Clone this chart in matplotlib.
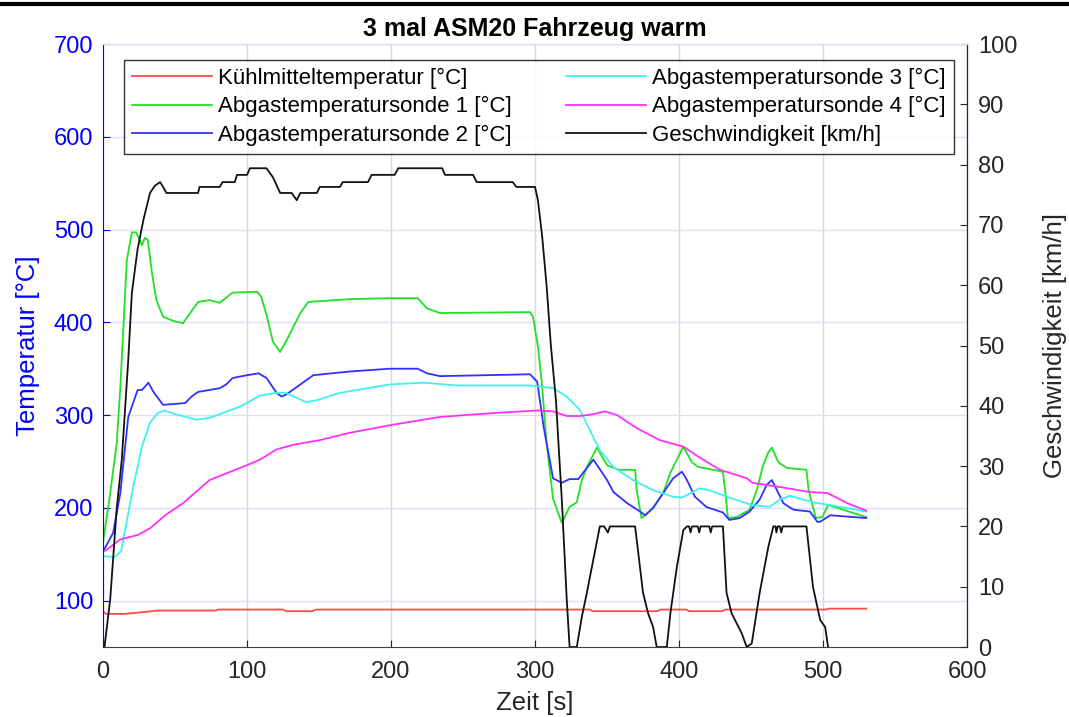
import matplotlib
matplotlib.use("Agg")
import matplotlib.pyplot as plt
from matplotlib.lines import Line2D

plt.rcParams['font.family'] = ['Liberation Sans', 'DejaVu Sans']

title = "3 mal ASM20 Fahrzeug warm"
xlabel = "Zeit [s]"
ylabel_left = "Temperatur [°C]"
ylabel_right = "Geschwindigkeit [km/h]"
labels = ["Kühlmitteltemperatur [°C]", "Abgastemperatursonde 1 [°C]",
          "Abgastemperatursonde 2 [°C]", "Abgastemperatursonde 3 [°C]",
          "Abgastemperatursonde 4 [°C]", "Geschwindigkeit [km/h]"]

# Coolant temperature
t_kuehl = [0, 2, 15, 20, 30, 38, 78, 80, 125, 127, 145, 148, 338, 340, 385, 387, 405, 407, 430, 432, 502, 504, 530]
v_kuehl = [88.5, 85.7, 85.7, 86.5, 88, 89.3, 89.3, 90.4, 90.4, 88.6, 88.6, 90.4, 90.4, 88.6, 88.6, 90.4, 90.4, 88.6, 88.6, 90.4, 90.4, 91.4, 91.4]

# Probe 1 (green)
t_s1 = [0, 5, 9.5, 12, 16.5, 20, 23, 27, 29, 31, 34, 37, 41.7, 48, 55.5, 60.5, 66, 74, 81, 90, 107, 110, 114, 118, 123, 128.6,
        137, 142.5, 171.5, 199, 218.5, 225, 234, 296.5, 298.6, 302, 305, 308, 312.5, 318.5, 324, 329, 332.5, 336, 343, 350, 358,
        369.5, 370.6, 374, 382, 389, 394, 398.5, 403, 409, 413.5, 430.5, 432, 434, 440, 449, 454, 458, 462, 464.5, 469, 475,
        488.5, 490, 495, 499.5, 503.5, 510, 530]
v_s1 = [163, 216, 270, 330, 467, 497, 497, 483, 491, 489, 453, 424, 406, 402, 399, 410, 422, 424, 421, 432, 433, 427, 405, 379, 368, 384,
        410, 422, 425, 426, 426, 415, 410, 411, 406, 374, 330, 270, 210, 184, 201, 206, 230, 244, 265, 246, 241,
        241, 219, 189, 200, 216, 238, 252, 266, 249, 244, 239, 219, 189, 190, 198, 219, 244, 260, 265, 249, 243,
        241, 219, 189, 190, 203, 200, 190]

# Probe 2 (blue)
t_s2 = [0, 7, 12, 17.5, 24, 27, 31.5, 35, 41.7, 57, 61.5, 66, 81, 85.5, 90, 100, 108, 113.5, 120.5, 124, 127, 137, 146, 171.5,
        199, 218.5, 225, 234, 296.5, 301.5, 306, 312.5, 318.5, 324, 330, 335, 340.5, 344, 350, 354.5, 364, 373, 376.5, 382,
        389, 396, 402, 405.5, 411, 419, 430.5, 435, 442, 449, 456, 461, 464.5, 468, 472.5, 479.5, 491, 496, 498, 505, 530]
v_s2 = [153, 173, 216, 298, 327, 327, 335, 325, 311, 313, 320, 325, 329, 333, 340, 343, 345, 340, 324, 320, 322, 333, 343, 347,
        350, 350, 345, 342, 344, 336, 287, 232, 227, 231, 231, 241, 252, 244, 230, 217, 205, 196, 192, 200,
        216, 232, 239, 230, 212, 201, 195, 187, 189, 196, 209, 225, 230, 219, 205, 198, 196, 185, 185, 192, 189]

# Probe 3 (cyan)
t_s3 = [0, 8, 12.5, 17.5, 21, 27, 32.6, 38, 42.5, 48, 65, 74, 95, 109, 120.5, 127, 141, 148.5, 164.5, 199, 222, 245.5, 296.5,
        312.5, 322, 331, 338, 345, 354.5, 368, 382, 396, 402, 409.5, 414, 421, 435, 451, 463, 470, 477, 493, 512, 530]
v_s3 = [148, 147, 153, 194, 223, 266, 292, 302, 305, 302, 295, 297, 309, 321, 324, 324, 314, 316, 324, 333, 335, 332, 332,
        329, 320, 306, 284, 262, 244, 230, 219, 212, 211, 217, 221, 219, 211, 203, 201, 209, 213, 206, 201, 196]

# Probe 4 (magenta)
t_s4 = [0, 2.6, 12, 24.5, 32.6, 44, 55.5, 74, 100, 109, 120.5, 132, 150.5, 171.5, 199, 234, 269, 301.5, 312.5, 322, 331,
        340.5, 348.5, 357, 370.6, 386.6, 403, 414.5, 428.5, 447, 451, 468, 491, 503, 517, 530]
v_s4 = [153, 155, 166, 171, 178, 193, 205, 230, 246, 252, 263, 268, 273, 281, 289, 298, 302, 305, 304, 299, 299,
        301, 304, 300, 286, 273, 266, 254, 241, 232, 227, 223, 217, 216, 205, 197]

# Speed (black, right axis)
t_v = [0, 1, 5, 9.5, 13, 17.5, 20, 24, 28, 32.6, 36, 39.6, 41.7, 44, 51, 66, 67, 81, 83, 91.5, 93, 100, 102, 113.5, 118, 123,
       131, 134.5, 137, 148.5, 150.5, 164.5, 166.5, 184, 186.5, 202.5, 205, 235.5, 237.5, 257, 259.5, 284.5, 287, 300,
       302, 305, 308, 311, 314.5, 318.7, 322, 324, 329, 332.5, 336, 339.5, 345, 348, 350.6, 352, 369.5, 372, 375, 378.5,
       382, 384.5, 391.5, 394, 398.5, 403, 405.5, 407, 408, 409, 413, 414, 415, 421, 422, 423, 430.5, 433, 436.5, 443.5,
       447, 450.5, 456, 462, 465.5, 467, 467.6, 468.5, 470, 471, 472, 488.5, 493, 498, 501.5, 503.5]
v_v = [0, 0, 8, 23, 31, 47.6, 58.7, 66, 70.8, 75.3, 76.5, 77.1, 76.3, 75.3, 75.3, 75.3, 76.3, 76.3, 77.1, 77.1, 78.3, 78.3, 79.4,
       79.4, 77.9, 75.3, 75.3, 74.1, 75.3, 75.3, 76.3, 76.3, 77.1, 77.1, 78.3, 78.3, 79.4, 79.4, 78.3, 78.3, 77.1, 77.1,
       76.3, 76.3, 74.1, 68, 60, 50, 41, 24, 8, 0, 0, 5, 9, 13.3, 20, 20, 19, 20, 20, 15, 9, 5.6, 3.3, 0, 0, 5.6, 13.3,
       19.4, 20, 20, 19, 20, 20, 19, 20, 20, 19, 20, 20, 9, 5.6, 2.3, 0, 0.6, 9, 16.6, 20, 20, 19, 20, 20, 19, 20, 20,
       10, 4.5, 3.3, 0]

xticks = [0, 100, 200, 300, 400, 500, 600]
yticks_left = [100, 200, 300, 400, 500, 600, 700]
yticks_right = [0, 10, 20, 30, 40, 50, 60, 70, 80, 90, 100]

c_red = '#ff4a4a'
c_green = '#22e022'
c_blue = '#3030ff'
c_cyan = '#40f0f0'
c_mag = '#ff30ff'
c_blk = '#111111'
blue_axis = '#0000ff'
dark = '#262626'

fig = plt.figure(figsize=(10.69, 7.17), dpi=100)
ax = fig.add_axes([0.0964, 0.0976, 0.8082, 0.841])
ax2 = ax.twinx()

lw = 1.3
ax.plot(t_kuehl, v_kuehl, color=c_red, lw=lw)
ax.plot(t_s1, v_s1, color=c_green, lw=lw)
ax.plot(t_s2, v_s2, color=c_blue, lw=lw)
ax.plot(t_s3, v_s3, color=c_cyan, lw=lw)
ax.plot(t_s4, v_s4, color=c_mag, lw=lw)
ax2.plot(t_v, v_v, color=c_blk, lw=lw)

ax.set_xlim(0, 600)
ax.set_ylim(50, 700)
ax2.set_ylim(0, 100)
ax.set_xticks(xticks)
ax.set_yticks(yticks_left)
ax2.set_yticks(yticks_right)

ax.xaxis.grid(True, color='#d8d8e0', lw=1)
ax.yaxis.grid(True, color='#dcdcff', lw=1)
ax.set_axisbelow(True)

ax.tick_params(axis='x', direction='in', labelsize=17, length=5, colors=dark, labelcolor=dark, pad=10)
ax.tick_params(axis='y', direction='in', labelsize=17, length=5, colors=blue_axis, labelcolor=blue_axis, pad=7)
ax2.tick_params(axis='y', direction='in', labelsize=17, length=5, colors=dark, labelcolor=dark, pad=8)

ax.spines['left'].set_color(blue_axis)
ax.spines['bottom'].set_color('#404040')
ax.spines['top'].set_color('#dcdcf0')
ax2.spines['left'].set_visible(False)
ax2.spines['top'].set_color('#dcdcf0')
ax2.spines['bottom'].set_visible(False)
ax2.spines['right'].set_color(dark)

ax.set_xlabel(xlabel, fontsize=18.5, color=dark, labelpad=6)
ax.set_ylabel(ylabel_left, fontsize=18.5, color=blue_axis, labelpad=10)
ax2.set_ylabel(ylabel_right, fontsize=18.5, color=dark, labelpad=18)
ax.set_title(title, fontsize=18, fontweight='bold', pad=6)

colors = [c_red, c_green, c_blue, c_cyan, c_mag, c_blk]
handles = [Line2D([0], [0], color=c, lw=lw) for c in colors]
leg = ax2.legend(handles, labels, ncol=2, loc='upper left', bbox_to_anchor=(0.0243, 0.9735),
                 borderaxespad=0, fontsize=16, frameon=True, fancybox=False, edgecolor='black',
                 handlelength=3.6, handletextpad=0.3, columnspacing=2.4, borderpad=0.35, labelspacing=0.33)
leg.get_frame().set_linewidth(1.0)

fig.add_artist(Line2D([0, 1], [0.995, 0.995], color='black', lw=3, transform=fig.transFigure))

fig.savefig("out.png", dpi=100)
